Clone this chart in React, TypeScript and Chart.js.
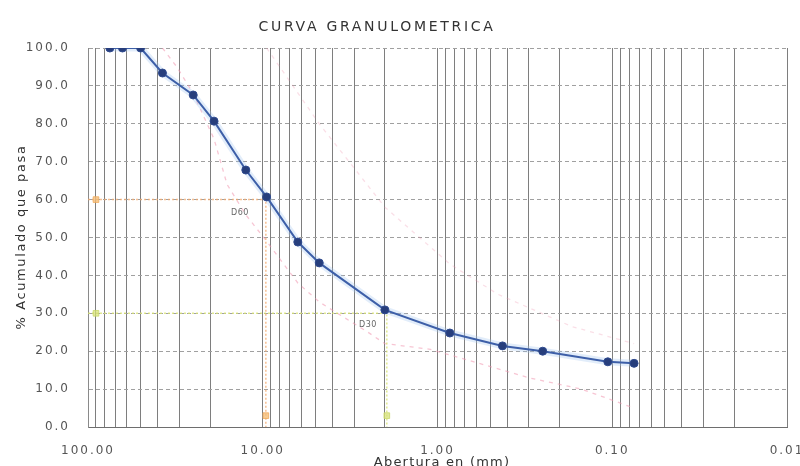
import React, { useEffect, useRef } from 'react';
import { Chart, registerables } from 'chart.js';

Chart.register(...registerables);

// ---- Data ----
const sieveOpenings = [75, 63.5, 50, 37.5, 25, 19, 12.5, 9.5, 6.3, 4.75, 2, 0.85, 0.425, 0.25, 0.106, 0.075];
const percentPassing = [100, 100, 100, 93.4, 87.6, 80.7, 67.8, 60.7, 48.8, 43.3, 30.9, 24.8, 21.4, 20.0, 17.2, 16.8];

const lowerLimitSizes = [37.5, 31, 25, 19, 16, 12.5, 9.5, 6.3, 4.75, 2.5, 2, 1.1, 0.6, 0.3, 0.15, 0.075];
const lowerLimitValues = [100, 95, 88, 76, 64, 56, 49, 38, 33, 25, 22, 20.5, 17, 13, 10, 5];

const upperLimitSizes = [9.5, 4.75, 2, 0.85, 0.45, 0.17, 0.075];
const upperLimitValues = [100, 80, 58, 43, 35, 26.5, 22];

const d60Size = 9.6;
const d30Size = 1.95;
const d60Label = 'D60';
const d30Label = 'D30';

const decadeValues = [100, 10, 1, 0.1, 0.01];
const decadeLabels = ['100.00', '10.00', '1.00', '0.10', '0.01'];
const gridMultipliers = [1, 2, 3, 4, 5, 6, 7, 8, 9];
const gridDecades = [0.01, 0.1, 1, 10];

const chartTitle = 'CURVA GRANULOMETRICA';
const xTitle = 'Abertura en (mm)';
const yTitle = '% Acumulado que pasa';

const FONT = "'DejaVu Sans', Verdana, sans-serif";

function buildGridTicks(): number[] {
  const out: number[] = [];
  gridDecades.forEach((d) => gridMultipliers.forEach((m) => out.push(+(d * m).toPrecision(6))));
  out.push(100);
  return out;
}

function decadeLabel(value: number): string {
  for (let i = 0; i < decadeValues.length; i++) {
    if (Math.abs(value - decadeValues[i]) / decadeValues[i] < 1e-6) return decadeLabels[i];
  }
  return '';
}

const textPlugin = {
  id: 'textPlugin',
  beforeDraw(chart: any) {
    (chart.ctx as any).letterSpacing = '2px';
  },
  afterDraw(chart: any) {
    const { ctx, scales } = chart;
    const x = scales.x;
    const y = scales.y;
    ctx.save();
    ctx.fillStyle = '#333333';
    ctx.textAlign = 'center';
    ctx.textBaseline = 'middle';

    (ctx as any).letterSpacing = '2.7px';
    ctx.font = `14px ${FONT}`;
    ctx.fillText(chartTitle, 377, 27);

    (ctx as any).letterSpacing = '1.2px';
    ctx.font = `13px ${FONT}`;
    ctx.fillText(xTitle, 442, 463);

    ctx.save();
    (ctx as any).letterSpacing = '1.6px';
    ctx.font = `13px ${FONT}`;
    ctx.translate(22, 237);
    ctx.rotate(-Math.PI / 2);
    ctx.fillText(yTitle, 0, 0);
    ctx.restore();

    (ctx as any).letterSpacing = '0.5px';
    ctx.font = `8px ${FONT}`;
    ctx.fillStyle = '#666';
    ctx.fillText(d60Label, x.getPixelForValue(13.5), y.getPixelForValue(56.5));
    ctx.fillText(d30Label, x.getPixelForValue(2.5), y.getPixelForValue(27));
    ctx.restore();
    (ctx as any).letterSpacing = '0px';
  },
};

export default function App() {
  const canvasRef = useRef<HTMLCanvasElement | null>(null);

  useEffect(() => {
    document.body.style.margin = '0';
    const canvas = canvasRef.current;
    if (!canvas) return;
    const gridTicks = buildGridTicks();

    const mainPoints = sieveOpenings.map((s, i) => ({ x: s, y: percentPassing[i] }));
    const lowerPoints = lowerLimitSizes.map((s, i) => ({ x: s, y: lowerLimitValues[i] }));
    const upperPoints = upperLimitSizes.map((s, i) => ({ x: s, y: upperLimitValues[i] }));

    const chart = new Chart(canvas, {
      type: 'scatter',
      data: {
        datasets: [
          {
            label: 'Curva',
            data: mainPoints,
            showLine: true,
            borderColor: '#3d5fa8',
            borderWidth: 2,
            pointRadius: 4,
            pointBackgroundColor: '#273e7c',
            pointBorderColor: '#2f4a8e',
            pointBorderWidth: 1,
          },
          {
            label: 'halo',
            data: mainPoints,
            showLine: true,
            borderColor: 'rgba(160,195,240,0.3)',
            borderWidth: 7,
            pointRadius: 0,
          },
          {
            label: 'D60 marks',
            data: [{ x: 90, y: 60 }, { x: d60Size, y: 3 }],
            showLine: false,
            pointStyle: 'rect',
            pointRadius: 4,
            pointBackgroundColor: 'rgba(245,190,120,0.8)',
            pointBorderColor: 'rgba(240,170,90,0.8)',
          },
          {
            label: 'D30 marks',
            data: [{ x: 90, y: 30 }, { x: d30Size, y: 3 }],
            showLine: false,
            pointStyle: 'rect',
            pointRadius: 4,
            pointBackgroundColor: 'rgba(215,225,120,0.75)',
            pointBorderColor: 'rgba(200,215,100,0.75)',
          },
          {
            label: 'D60',
            data: [{ x: 100, y: 60 }, { x: d60Size, y: 60 }, { x: d60Size, y: 0 }],
            showLine: true,
            borderColor: 'rgba(244,170,110,0.75)',
            borderWidth: 1.5,
            borderDash: [2, 2],
            pointRadius: 0,
          },
          {
            label: 'D30',
            data: [{ x: 100, y: 30 }, { x: d30Size, y: 30 }, { x: d30Size, y: 0 }],
            showLine: true,
            borderColor: 'rgba(215,225,110,0.75)',
            borderWidth: 1.5,
            borderDash: [2, 2],
            pointRadius: 0,
          },
          {
            label: 'Limite inferior',
            data: lowerPoints,
            showLine: true,
            borderColor: 'rgba(240,150,175,0.55)',
            borderWidth: 1.3,
            borderDash: [4, 5],
            pointRadius: 0,
          },
          {
            label: 'Limite superior',
            data: upperPoints,
            showLine: true,
            borderColor: 'rgba(240,150,175,0.3)',
            borderWidth: 1.3,
            borderDash: [4, 5],
            pointRadius: 0,
          },
        ],
      },
      options: {
        responsive: false,
        animation: false,
        events: [],
        layout: { padding: { top: 48, right: 13, bottom: 0, left: 0 } },
        plugins: {
          legend: { display: false },
          title: { display: false },
          tooltip: { enabled: false },
        },
        scales: {
          x: {
            type: 'logarithmic',
            reverse: true,
            min: 0.01,
            max: 100,
            afterBuildTicks: (scale: any) => {
              scale.ticks = gridTicks.map((v) => ({ value: v }));
            },
            afterFit: (scale: any) => {
              scale.height = 39;
              scale.paddingLeft = 0;
              scale.paddingRight = 0;
            },
            ticks: {
              autoSkip: false,
              maxRotation: 0,
              minRotation: 0,
              padding: 17,
              color: '#555555',
              font: { family: FONT, size: 12 },
              callback: (value: any) => decadeLabel(Number(value)),
            },
            grid: { color: '#7e7e7e', lineWidth: 1, drawTicks: false },
            border: { color: '#6e6e6e', width: 1 },
          },
          y: {
            min: 0,
            max: 100,
            afterFit: (scale: any) => {
              scale.width = 88;
              scale.paddingTop = 0;
              scale.paddingBottom = 0;
            },
            ticks: {
              stepSize: 10,
              padding: 18,
              color: '#555555',
              font: { family: FONT, size: 12 },
              callback: (value: any) => Number(value).toFixed(1),
            },
            grid: { color: '#a0a0a0', lineWidth: 1, drawTicks: false },
            border: { color: '#8a8a8a', width: 1, dash: [4, 3] },
          },
        },
      } as any,
      plugins: [textPlugin],
    });

    return () => chart.destroy();
  }, []);

  return (
    <div style={{ width: 800, height: 466 }}>
      <canvas ref={canvasRef} width={800} height={466} style={{ display: 'block' }} />
    </div>
  );
}
